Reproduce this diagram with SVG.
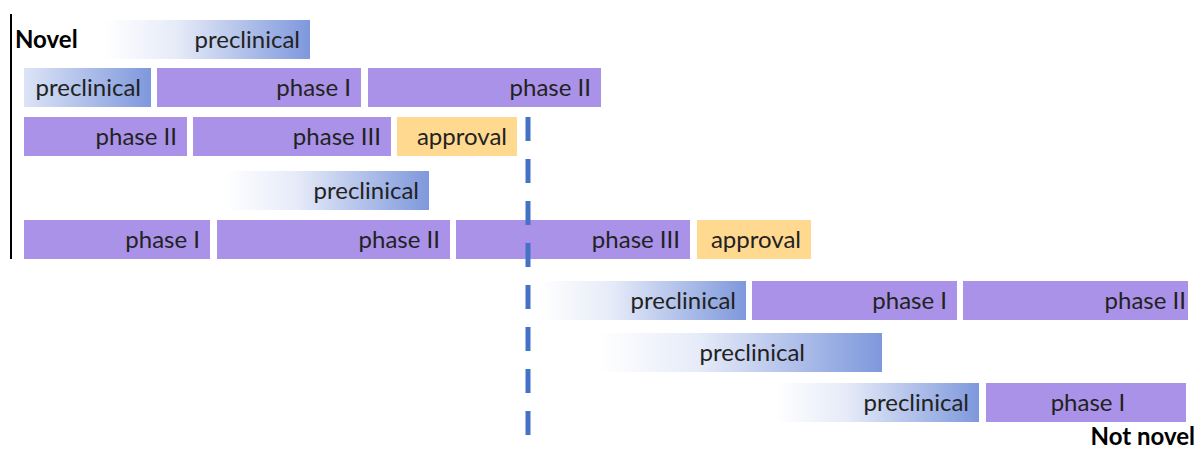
<svg xmlns="http://www.w3.org/2000/svg" width="1198" height="450" viewBox="0 0 1198 450">
<defs>
<linearGradient id="g" x1="0" y1="0" x2="1" y2="0"><stop offset="0" stop-color="#ffffff"/><stop offset="0.35" stop-color="#E6EBF8"/><stop offset="1" stop-color="#7E98DC"/></linearGradient>
<linearGradient id="g2" x1="0" y1="0" x2="1" y2="0"><stop offset="0" stop-color="#DCE4F6"/><stop offset="1" stop-color="#7E98DC"/></linearGradient>
<style>
.ph{fill:#AA92E8}
.ap{fill:#FFD990}
.pc{fill:url(#g)}
.pc2{fill:url(#g2)}
text{font-family:Lato,"Open Sans",sans-serif;font-size:24px;fill:#222}
.e{text-anchor:end}
.m{text-anchor:middle}
.b{font-weight:bold;fill:#000;font-size:24px}
</style>
</defs>
<line x1="11" y1="14" x2="11" y2="259" stroke="#000" stroke-width="2"/>
<text class="b" x="15" y="48">Novel</text>
<text class="b e" x="1195" y="445">Not novel</text>
<g id="r1"><rect class="pc" x="105" y="20" width="205" height="39"/><text class="e" x="300" y="48">preclinical</text></g>
<g id="r2a"><rect class="pc2" x="24" y="68" width="127" height="39"/><text class="e" x="141" y="96">preclinical</text></g>
<g id="r2b"><rect class="ph" x="157" y="68" width="204" height="39"/><text class="e" x="351" y="96">phase I</text></g>
<g id="r2c"><rect class="ph" x="368" y="68" width="233" height="39"/><text class="e" x="591" y="96">phase II</text></g>
<g id="r3a"><rect class="ph" x="24" y="117" width="163" height="39"/><text class="e" x="177" y="145">phase II</text></g>
<g id="r3b"><rect class="ph" x="193" y="117" width="198" height="39"/><text class="e" x="381" y="145">phase III</text></g>
<g id="r3c"><rect class="ap" x="397" y="117" width="120" height="39"/><text class="e" x="507" y="145">approval</text></g>
<g id="r4"><rect class="pc" x="225" y="171" width="204" height="39"/><text class="e" x="419" y="199">preclinical</text></g>
<g id="r5a"><rect class="ph" x="24" y="220" width="186" height="39"/><text class="e" x="200" y="248">phase I</text></g>
<g id="r5b"><rect class="ph" x="217" y="220" width="233" height="39"/><text class="e" x="440" y="248">phase II</text></g>
<g id="r5c"><rect class="ph" x="456" y="220" width="234" height="39"/><text class="e" x="680" y="248">phase III</text></g>
<g id="r5d"><rect class="ap" x="697" y="220" width="114" height="39"/><text class="e" x="801" y="248">approval</text></g>
<g id="r6a"><rect class="pc" x="540" y="281" width="206" height="39"/><text class="e" x="736" y="309">preclinical</text></g>
<g id="r6b"><rect class="ph" x="752" y="281" width="205" height="39"/><text class="e" x="947" y="309">phase I</text></g>
<g id="r6c"><rect class="ph" x="963" y="281" width="225" height="39"/><text class="e" x="1186" y="309">phase II</text></g>
<g id="r7"><rect class="pc" x="600" y="333" width="282" height="39"/><text class="e" x="805" y="361">preclinical</text></g>
<g id="r8a"><rect class="pc" x="775" y="383" width="204" height="39"/><text class="e" x="969" y="411">preclinical</text></g>
<g id="r8b"><rect class="ph" x="986" y="383" width="200" height="39"/><text class="m" x="1088" y="411">phase I</text></g>
<g id="connectors"><line x1="528" y1="117" x2="528" y2="440" stroke="#4472C4" stroke-width="5" stroke-dasharray="24 18"/></g>
</svg>
